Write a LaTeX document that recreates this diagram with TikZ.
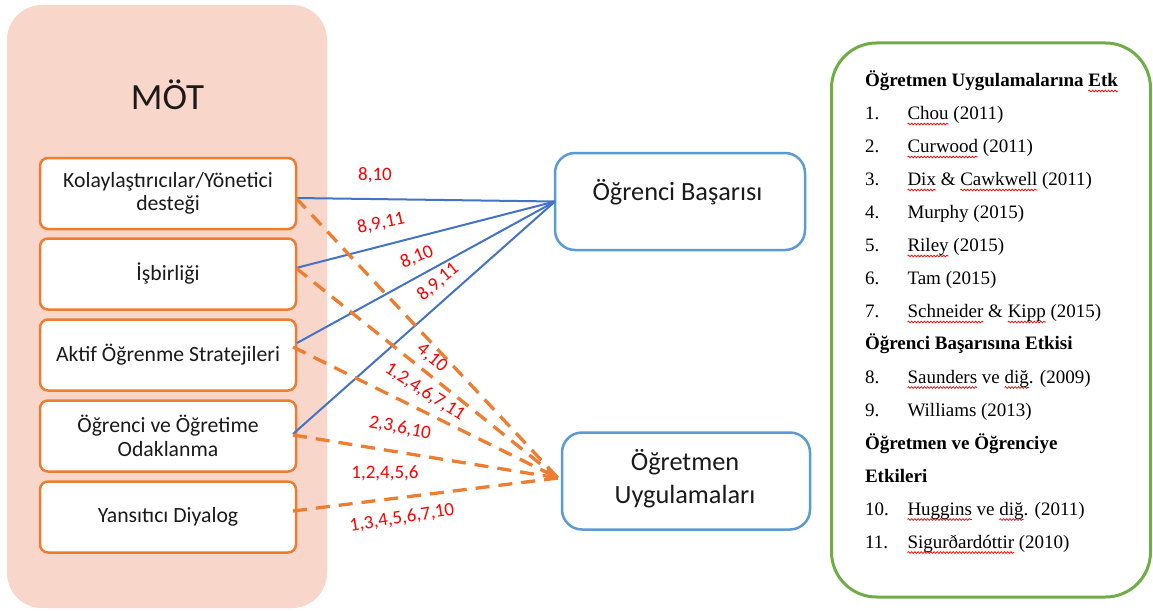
\documentclass[tikz,border=0pt]{standalone}
\usepackage{fontspec}
\setmainfont{Liberation Serif}
\newfontfamily\calibri{Carlito}
\usetikzlibrary{decorations.pathmorphing}
\definecolor{panelpink}{HTML}{F8D6CA}
\definecolor{boxorange}{HTML}{ED7D31}
\definecolor{boxblue}{HTML}{5B9BD5}
\definecolor{linkblue}{HTML}{4472C4}
\definecolor{linkorange}{HTML}{ED7D31}
\definecolor{framegreen}{HTML}{70AD47}
\definecolor{textdark}{HTML}{1A1A1A}
% red wavy underline (spell-check style) under a word
\newsavebox\wavebox
\newcommand\spellwave[1]{\sbox\wavebox{#1}%
  \rlap{\raisebox{-4.5pt}[0pt][0pt]{\tikz[baseline=0pt]{%
    \path[use as bounding box] (0pt,0pt);
    \draw[red, line width=0.7pt, decoration={snake, amplitude=0.9pt, segment length=3.2pt}, decorate]
      (0pt,0pt) -- (\the\wd\wavebox,0pt);}}}%
  \usebox\wavebox}
\begin{document}
\begin{tikzpicture}[x=1pt,y=-1pt,
  every node/.style={inner sep=0pt, outer sep=0pt},
  srcbox/.style={draw=boxorange, line width=2.5pt, rounded corners=8pt, fill=white,
    minimum width=256pt, minimum height=71pt, align=center,
    font=\calibri\fontsize{21.7}{23.5}\selectfont, text=textdark},
  tgtbox/.style={draw=boxblue, line width=2.5pt, rounded corners=20pt, fill=white,
    minimum height=97pt},
  tgttext/.style={font=\calibri\fontsize{26.3}{33}\selectfont, align=center, text=textdark},
  solidlink/.style={draw=linkblue, line width=2pt},
  dashlink/.style={draw=linkorange, line width=3.3pt, dash pattern=on 14pt off 9pt},
  numlabel/.style={text=red, font=\calibri\fontsize{19}{21}\selectfont},
  refnum/.style={anchor=base west, font=\fontsize{19}{23}\selectfont},
  reftext/.style={anchor=base west, font=\fontsize{19}{23}\selectfont},
  refhead/.style={anchor=base west, font=\bfseries\fontsize{19}{23}\selectfont},
]
\useasboundingbox (0,0) rectangle (1153,610);
\fill[white] (0,0) rectangle (1153,610);

% left panel
\fill[panelpink, rounded corners=35pt] (7,5) rectangle (327,608);
\node[font=\calibri\fontsize{37}{40}\selectfont, text=textdark] (mot) at (167.5,95) {MÖT};

\node[srcbox] (k1) at (168,193.5) {Kolaylaştırıcılar/Yönetici\\desteği};
\node[srcbox] (k2) at (168,274) {İşbirliği};
\node[srcbox] (k3) at (168,355) {Aktif Öğrenme Stratejileri};
\node[srcbox] (k4) at (168,436) {Öğrenci ve Öğretime\\Odaklanma};
\node[srcbox] (k5) at (168,517) {Yansıtıcı Diyalog};

% outcome boxes
\node[tgtbox, minimum width=250pt] (ob) at (680,201.5) {};
\node[tgttext, anchor=base] (obt) at (677.5,200) {Öğrenci Başarısı};
\node[tgtbox, minimum width=248pt] (ou) at (686,481) {};
\node[tgttext] (out) at (685,479) {Öğretmen\\Uygulamaları};

\coordinate (tip) at ([shift={(-4,-3)}]ou.west);

% links to student achievement
\draw[solidlink] ([shift={(0,4.5)}]k1.east) -- (ob.west);
\draw[solidlink] ([shift={(0,-6)}]k2.east) -- (ob.west);
\draw[solidlink] ([shift={(1,-12)}]k3.east) -- (ob.west);
\draw[solidlink] ([shift={(-3,-2)}]k4.east) -- (ob.west);

% links to teacher practice
\draw[dashlink] ([shift={(0,4.5)}]k1.east) -- (tip);
\draw[dashlink] ([shift={(0,-6)}]k2.east) -- (tip);
\draw[dashlink] ([shift={(-3,-8)}]k3.east) -- (tip);
\draw[dashlink] ([shift={(-3,-1)}]k4.east) -- (tip);
\draw[dashlink] ([shift={(-3,-6)}]k5.east) -- (tip);

% study numbers on the links
\node[numlabel] (l1) at (375,175) {8,10};
\node[numlabel, rotate=12] (l2) at (381,223) {8,9,11};
\node[numlabel, rotate=22] (l3) at (417,257) {8,10};
\node[numlabel, rotate=40] (l4) at (438,282) {8,9,11};
\node[numlabel, rotate=-40] (l5) at (432,358) {4,10};
\node[numlabel, rotate=-33] (l6) at (425,392) {1,2,4,6,7,11};
\node[numlabel, rotate=-11] (l7) at (400,428) {2,3,6,10};
\node[numlabel] (l8) at (385,473) {1,2,4,5,6};
\node[numlabel, rotate=9] (l9) at (402,518) {1,3,4,5,6,7,10};

% reference list
\draw[draw=framegreen, line width=3pt, rounded corners=45pt] (831.5,43) rectangle (1150.5,597);

\node[refhead] (h1) at (865,86.5) {Öğretmen Uygulamalarına \spellwave{Etk}};
\node[refnum] (n1) at (865,119.5) {1.};
\node[reftext] (t1) at (907.5,119.5) {\spellwave{Chou} (2011)};
\node[refnum] (n2) at (865,152.5) {2.};
\node[reftext] (t2) at (907.5,152.5) {\spellwave{Curwood} (2011)};
\node[refnum] (n3) at (865,185.5) {3.};
\node[reftext] (t3) at (907.5,185.5) {\spellwave{Dix} \& \spellwave{Cawkwell} (2011)};
\node[refnum] (n4) at (865,218.5) {4.};
\node[reftext] (t4) at (907.5,218.5) {Murphy (2015)};
\node[refnum] (n5) at (865,251.5) {5.};
\node[reftext] (t5) at (907.5,251.5) {\spellwave{Riley} (2015)};
\node[refnum] (n6) at (865,284.5) {6.};
\node[reftext] (t6) at (907.5,284.5) {Tam (2015)};
\node[refnum] (n7) at (865,317.5) {7.};
\node[reftext] (t7) at (907.5,317.5) {\spellwave{Schneider} \& \spellwave{Kipp} (2015)};
\node[refhead] (h2) at (865,349.5) {Öğrenci Başarısına Etkisi};
\node[refnum] (n8) at (865,383) {8.};
\node[reftext] (t8) at (907.5,383) {\spellwave{Saunders} ve \spellwave{diğ}. (2009)};
\node[refnum] (n9) at (865,416.5) {9.};
\node[reftext] (t9) at (907.5,416.5) {Williams (2013)};
\node[refhead] (h3) at (865,449) {Öğretmen ve Öğrenciye};
\node[refhead] (h3b) at (865,482) {Etkileri};
\node[refnum] (n10) at (865,515) {10.};
\node[reftext] (t10) at (907.5,515) {\spellwave{Huggins} ve \spellwave{diğ}. (2011)};
\node[refnum] (n11) at (865,548) {11.};
\node[reftext] (t11) at (907.5,548) {\spellwave{Sigurðardóttir} (2010)};
\end{tikzpicture}
\end{document}
